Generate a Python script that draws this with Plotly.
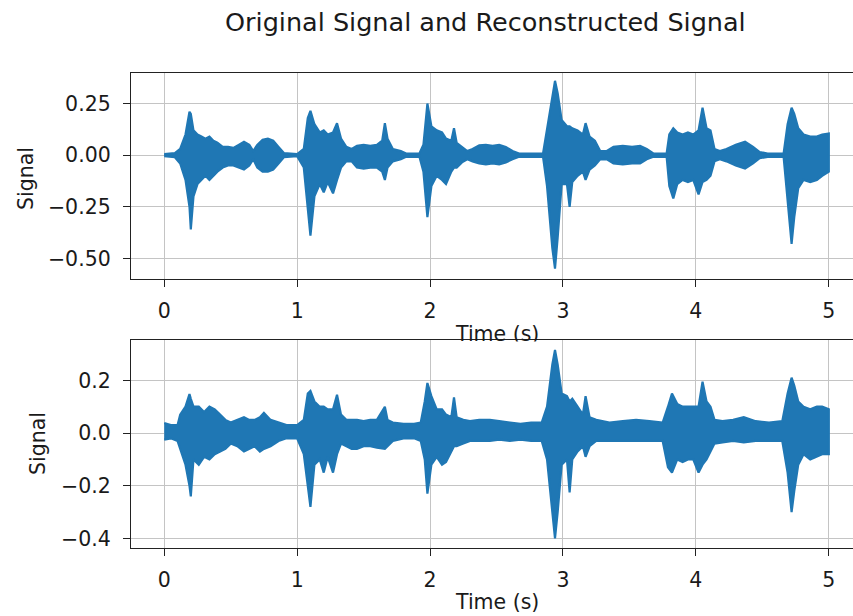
import plotly.graph_objects as go

# ---- data (envelope of the waveforms) ----
orig_t = [0.00, 0.08, 0.12, 0.16, 0.19, 0.20, 0.22, 0.25, 0.28, 0.31, 0.34, 0.37, 0.40, 0.44, 0.48, 0.52,
          0.56, 0.60, 0.64, 0.67, 0.70, 0.74, 0.78, 0.82, 0.86, 0.90, 1.00, 1.05, 1.08, 1.10, 1.13, 1.17,
          1.20, 1.23, 1.27, 1.30, 1.33, 1.37, 1.41, 1.45, 1.50, 1.55, 1.60, 1.64, 1.66, 1.68, 1.72, 1.78,
          1.82, 1.92, 1.95, 1.98, 2.01, 2.05, 2.09, 2.12, 2.16, 2.18, 2.20, 2.24, 2.28, 2.32, 2.37, 2.42,
          2.47, 2.52, 2.57, 2.62, 2.67, 2.85, 2.88, 2.92, 2.94, 2.96, 2.99, 3.03, 3.05, 3.07, 3.11, 3.15,
          3.17, 3.20, 3.24, 3.28, 3.33, 3.38, 3.45, 3.52, 3.58, 3.63, 3.68, 3.78, 3.80, 3.83, 3.86, 3.90,
          3.94, 3.98, 4.02, 4.05, 4.08, 4.11, 4.14, 4.18, 4.23, 4.30, 4.37, 4.43, 4.48, 4.54, 4.66, 4.69,
          4.72, 4.74, 4.77, 4.81, 4.86, 4.91, 4.95, 5.00]
orig_hi = [0.005, 0.01, 0.03, 0.10, 0.21, 0.20, 0.12, 0.10, 0.09, 0.08, 0.09, 0.07, 0.06, 0.04, 0.04, 0.035,
           0.05, 0.065, 0.05, 0.02, 0.05, 0.075, 0.08, 0.07, 0.04, 0.01, 0.005, 0.03, 0.18, 0.215, 0.15, 0.11,
           0.12, 0.10, 0.11, 0.155, 0.08, 0.04, 0.03, 0.045, 0.05, 0.045, 0.05, 0.07, 0.155, 0.08, 0.03, 0.02,
           0.008, 0.008, 0.05, 0.25, 0.14, 0.12, 0.11, 0.08, 0.07, 0.13, 0.06, 0.04, 0.02, 0.03, 0.048, 0.05,
           0.045, 0.05, 0.04, 0.02, 0.008, 0.008, 0.13, 0.30, 0.36, 0.30, 0.17, 0.14, 0.14, 0.13, 0.12, 0.10,
           0.155, 0.09, 0.07, 0.02, 0.02, 0.04, 0.045, 0.04, 0.045, 0.03, 0.008, 0.008, 0.10, 0.13, 0.11, 0.10,
           0.11, 0.10, 0.12, 0.23, 0.13, 0.12, 0.03, 0.02, 0.03, 0.05, 0.065, 0.04, 0.015, 0.008, 0.008, 0.15,
           0.23, 0.20, 0.13, 0.10, 0.09, 0.09, 0.10, 0.105]
orig_lo = [-0.005, -0.01, -0.04, -0.12, -0.25, -0.36, -0.20, -0.14, -0.12, -0.10, -0.12, -0.10, -0.08, -0.06, -0.05, -0.05,
           -0.06, -0.07, -0.05, -0.02, -0.06, -0.08, -0.08, -0.07, -0.04, -0.01, -0.005, -0.06, -0.25, -0.39, -0.20, -0.14,
           -0.18, -0.13, -0.185, -0.12, -0.06, -0.03, -0.03, -0.06, -0.065, -0.06, -0.06, -0.08, -0.12, -0.06, -0.03, -0.02,
           -0.008, -0.008, -0.08, -0.30, -0.15, -0.10, -0.12, -0.14, -0.08, -0.06, -0.06, -0.035, -0.02, -0.03, -0.04, -0.045,
           -0.04, -0.045, -0.035, -0.02, -0.008, -0.008, -0.15, -0.45, -0.55, -0.40, -0.14, -0.14, -0.25, -0.13, -0.10, -0.08,
           -0.12, -0.07, -0.05, -0.02, -0.02, -0.04, -0.045, -0.04, -0.04, -0.02, -0.008, -0.008, -0.15, -0.21, -0.14, -0.12,
           -0.13, -0.12, -0.19, -0.13, -0.12, -0.10, -0.03, -0.02, -0.03, -0.05, -0.065, -0.04, -0.015, -0.008, -0.008, -0.20,
           -0.43, -0.30, -0.16, -0.12, -0.13, -0.12, -0.10, -0.08]

recon_t = [0.00, 0.05, 0.10, 0.12, 0.16, 0.19, 0.20, 0.22, 0.26, 0.30, 0.34, 0.38, 0.42, 0.46, 0.50, 0.55,
           0.60, 0.64, 0.68, 0.72, 0.75, 0.80, 0.86, 0.92, 1.00, 1.05, 1.08, 1.10, 1.13, 1.17, 1.20, 1.23,
           1.27, 1.30, 1.33, 1.37, 1.41, 1.45, 1.50, 1.55, 1.60, 1.66, 1.68, 1.72, 1.80, 1.88, 1.93, 1.96,
           1.98, 2.01, 2.05, 2.09, 2.12, 2.16, 2.18, 2.20, 2.25, 2.30, 2.37, 2.45, 2.52, 2.60, 2.68, 2.76,
           2.84, 2.88, 2.92, 2.94, 2.96, 2.99, 3.03, 3.05, 3.07, 3.11, 3.15, 3.17, 3.20, 3.25, 3.35, 3.45,
           3.55, 3.65, 3.75, 3.79, 3.82, 3.86, 3.90, 3.94, 3.98, 4.02, 4.05, 4.08, 4.11, 4.14, 4.20, 4.28,
           4.36, 4.45, 4.55, 4.65, 4.69, 4.72, 4.74, 4.77, 4.81, 4.86, 4.91, 4.95, 5.00]
recon_hi = [0.038, 0.03, 0.03, 0.07, 0.10, 0.148, 0.13, 0.10, 0.10, 0.08, 0.10, 0.09, 0.07, 0.05, 0.04, 0.05,
            0.06, 0.05, 0.05, 0.06, 0.077, 0.05, 0.04, 0.03, 0.03, 0.05, 0.15, 0.16, 0.12, 0.10, 0.10, 0.09,
            0.09, 0.145, 0.07, 0.05, 0.05, 0.05, 0.045, 0.05, 0.05, 0.10, 0.05, 0.04, 0.035, 0.035, 0.04, 0.12,
            0.19, 0.14, 0.09, 0.09, 0.07, 0.06, 0.135, 0.06, 0.05, 0.045, 0.05, 0.05, 0.045, 0.04, 0.035, 0.04,
            0.04, 0.10, 0.26, 0.315, 0.26, 0.15, 0.14, 0.12, 0.13, 0.10, 0.07, 0.14, 0.06, 0.05, 0.04, 0.045,
            0.05, 0.045, 0.04, 0.10, 0.15, 0.11, 0.10, 0.10, 0.10, 0.10, 0.195, 0.12, 0.10, 0.05, 0.045, 0.05,
            0.06, 0.045, 0.04, 0.045, 0.15, 0.21, 0.18, 0.12, 0.10, 0.09, 0.10, 0.10, 0.09]
recon_lo = [-0.025, -0.02, -0.03, -0.06, -0.12, -0.20, -0.24, -0.10, -0.12, -0.09, -0.10, -0.08, -0.07, -0.06, -0.04, -0.05,
            -0.07, -0.06, -0.05, -0.07, -0.06, -0.05, -0.03, -0.02, -0.02, -0.08, -0.20, -0.28, -0.12, -0.10, -0.15, -0.09,
            -0.15, -0.08, -0.04, -0.05, -0.06, -0.06, -0.05, -0.05, -0.055, -0.06, -0.05, -0.03, -0.02, -0.02, -0.03, -0.10,
            -0.23, -0.12, -0.09, -0.12, -0.11, -0.07, -0.05, -0.05, -0.04, -0.03, -0.03, -0.03, -0.025, -0.03, -0.025, -0.03,
            -0.03, -0.10, -0.30, -0.40, -0.30, -0.12, -0.10, -0.225, -0.10, -0.07, -0.05, -0.09, -0.05, -0.03, -0.03, -0.03,
            -0.03, -0.03, -0.03, -0.13, -0.15, -0.10, -0.11, -0.10, -0.10, -0.15, -0.12, -0.10, -0.07, -0.04, -0.035, -0.03,
            -0.035, -0.03, -0.03, -0.03, -0.15, -0.30, -0.22, -0.12, -0.08, -0.10, -0.09, -0.08, -0.08]

title_text = "Original Signal and Reconstructed Signal"
x_label = "Time (s)"
y_label = "Signal"

BLUE = "#1f77b4"
FONT = "DejaVu Sans"
TXT = "#1a1a1a"
FS = 20.5

# layout geometry (pixels)
W, H = 853, 616
ML, MT, MB = 131, 73, 68
plot_h = H - MT - MB
plot_w = W - ML


def py(p):
    return (H - MB - p) / plot_h


def px(q):
    return (q - ML) / plot_w


fig = go.Figure()


def band(t, hi, lo, xa, ya):
    xs = list(t) + list(reversed(t))
    ys = list(hi) + list(reversed(lo))
    fig.add_trace(go.Scatter(x=xs, y=ys, mode="lines", fill="toself", fillcolor=BLUE,
                             line=dict(color=BLUE, width=2.2), xaxis=xa, yaxis=ya,
                             showlegend=False, hoverinfo="skip"))


band(orig_t, orig_hi, orig_lo, "x", "y")
band(recon_t, recon_hi, recon_lo, "x2", "y2")

top_dom = [py(279), 1.0]
bot_dom = [0.0, py(340)]

xcommon = dict(range=[-0.25, 5.182], tickmode="array", tickvals=[0, 1, 2, 3, 4, 5],
               ticks="outside", ticklen=7, tickwidth=1.4, tickcolor="#222",
               showline=True, mirror=True, linecolor="#222", linewidth=1.3,
               showgrid=True, gridcolor="#c4c4c4", gridwidth=1.4, zeroline=False,
               tickfont=dict(family=FONT, size=FS, color=TXT), ticklabelstandoff=6)
ycommon = dict(ticks="outside", ticklen=7, tickwidth=1.4, tickcolor="#222",
               showline=True, mirror=False, linecolor="#222", linewidth=1.3,
               showgrid=True, gridcolor="#c4c4c4", gridwidth=1.4, zeroline=False,
               tickfont=dict(family=FONT, size=FS, color=TXT), ticklabelstandoff=8)

fig.update_layout(
    width=W, height=H,
    margin=dict(l=ML, r=0, t=MT, b=MB),
    paper_bgcolor="white", plot_bgcolor="white",
    showlegend=False,
    xaxis=dict(domain=[0, 1], anchor="y", **xcommon),
    yaxis=dict(domain=top_dom, anchor="x", range=[-0.600, 0.398], tickvals=[-0.5, -0.25, 0, 0.25],
               tickformat=".2f", **ycommon),
    xaxis2=dict(domain=[0, 1], anchor="y2", **xcommon),
    yaxis2=dict(domain=bot_dom, anchor="x2", range=[-0.436, 0.353], tickvals=[-0.4, -0.2, 0, 0.2],
                tickformat=".1f", **ycommon),
)

annos = [
    dict(text=title_text, xref="paper", yref="paper", x=px(485), y=py(22), xanchor="center",
         yanchor="middle", showarrow=False, font=dict(family=FONT, size=25.5, color=TXT)),
    dict(text=x_label, xref="x", yref="paper", x=2.5, y=py(334), xanchor="center",
         yanchor="middle", showarrow=False, font=dict(family=FONT, size=FS, color=TXT)),
    # the lower axes hide the bottom of the upper x label
    dict(text=" ", xref="x", yref="paper", x=2.5, y=py(341), xanchor="center", yanchor="top",
         showarrow=False, bgcolor="white", width=96, height=14, borderpad=0,
         font=dict(family=FONT, size=8, color="white")),
    dict(text=x_label, xref="x2", yref="paper", x=2.5, y=py(602), xanchor="center",
         yanchor="middle", showarrow=False, font=dict(family=FONT, size=FS, color=TXT)),
    dict(text=y_label, xref="paper", yref="paper", x=px(26), y=py(179), xanchor="center",
         yanchor="middle", textangle=-90, showarrow=False, font=dict(family=FONT, size=FS, color=TXT)),
    dict(text=y_label, xref="paper", yref="paper", x=px(38), y=py(444), xanchor="center",
         yanchor="middle", textangle=-90, showarrow=False, font=dict(family=FONT, size=FS, color=TXT)),
]
fig.update_layout(annotations=annos)

fig.write_html("out.html", config={"displayModeBar": False},
               post_script="document.body.style.margin='0';document.body.style.overflow='hidden';")
